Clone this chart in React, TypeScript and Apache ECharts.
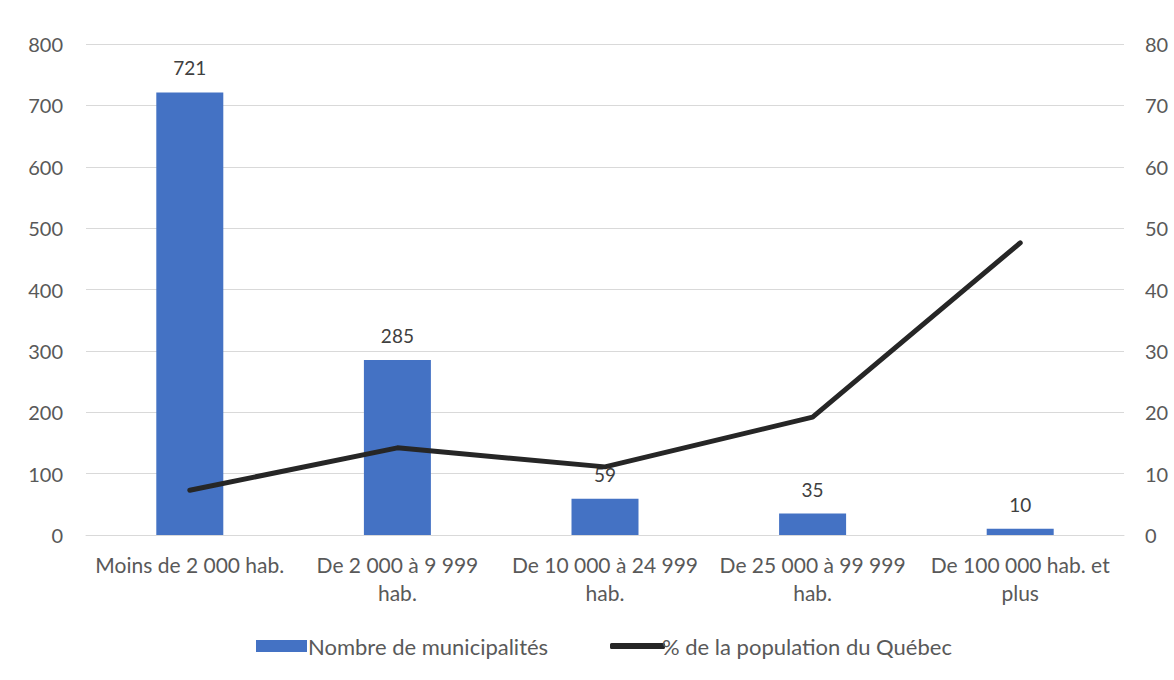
import React, { useEffect, useRef } from "react";
import * as echarts from "echarts";

// Tailles de municipalités
const categories = [
  "Moins de 2 000 hab.",
  "De 2 000 à 9 999\nhab.",
  "De 10 000 à 24 999\nhab.",
  "De 25 000 à 99 999\nhab.",
  "De 100 000 hab. et\nplus",
];
const municipalites = [721, 285, 59, 35, 10];
const partPopulation = [7.3, 14.2, 11.1, 19.2, 47.6];
const leftTicks = { min: 0, max: 800, interval: 100 };
const rightTicks = { min: 0, max: 80, interval: 10 };

const FONT = "Lato, 'Open Sans', sans-serif";
const TEXT = "#595959";

export default function App() {
  const ref = useRef<HTMLDivElement>(null);

  useEffect(() => {
    if (!ref.current) return;
    const chart = echarts.init(ref.current, undefined, { renderer: "svg" });
    chart.setOption({
      animation: false,
      backgroundColor: "#ffffff",
      textStyle: { fontFamily: FONT },
      grid: { left: 86, right: 50, top: 44, bottom: 145 },
      legend: [
        {
          left: 251,
          top: 630,
          itemWidth: 51,
          itemHeight: 12,
          icon: "rect",
          textStyle: { fontFamily: FONT, fontSize: 22, color: TEXT, padding: [0, 0, 0, -4] },
          data: ["Nombre de municipalités"],
        },
        {
          left: 605,
          top: 630,
          itemWidth: 55,
          itemHeight: 6,
          icon: "roundRect",
          textStyle: { fontFamily: FONT, fontSize: 22, color: TEXT, padding: [0, 0, 0, -8] },
          data: ["% de la population du Québec"],
        },
      ],
      xAxis: {
        type: "category",
        data: categories,
        axisLine: { lineStyle: { color: "#d9d9d9" } },
        axisTick: { show: false },
        axisLabel: {
          fontFamily: FONT,
          fontSize: 21,
          color: TEXT,
          lineHeight: 28,
          margin: 15,
          interval: 0,
        },
      },
      yAxis: [
        {
          type: "value",
          ...leftTicks,
          axisLine: { show: false },
          axisTick: { show: false },
          splitLine: { lineStyle: { color: "#d9d9d9", width: 1 } },
          axisLabel: { fontFamily: FONT, fontSize: 20, color: TEXT, margin: 23 },
        },
        {
          type: "value",
          ...rightTicks,
          axisLine: { show: false },
          axisTick: { show: false },
          splitLine: { show: false },
          axisLabel: { fontFamily: FONT, fontSize: 20, color: TEXT, margin: 21 },
        },
      ],
      series: [
        {
          name: "Nombre de municipalités",
          type: "bar",
          data: municipalites,
          yAxisIndex: 0,
          barWidth: 67,
          z: 2,
          itemStyle: { color: "#4472c4" },
          label: {
            show: true,
            position: "top",
            distance: 15,
            fontFamily: FONT,
            fontSize: 19,
            color: "#404040",
          },
        },
        {
          name: "% de la population du Québec",
          type: "line",
          data: partPopulation,
          yAxisIndex: 1,
          zlevel: 1,
          z: 5,
          showSymbol: false,
          symbol: "none",
          lineStyle: { color: "#262626", width: 5, cap: "round", join: "round" },
          itemStyle: { color: "#262626" },
        },
      ],
    });
    return () => chart.dispose();
  }, []);

  return (
    <div
      ref={ref}
      style={{ position: "absolute", left: 0, top: 0, width: 1174, height: 680 }}
    />
  );
}
